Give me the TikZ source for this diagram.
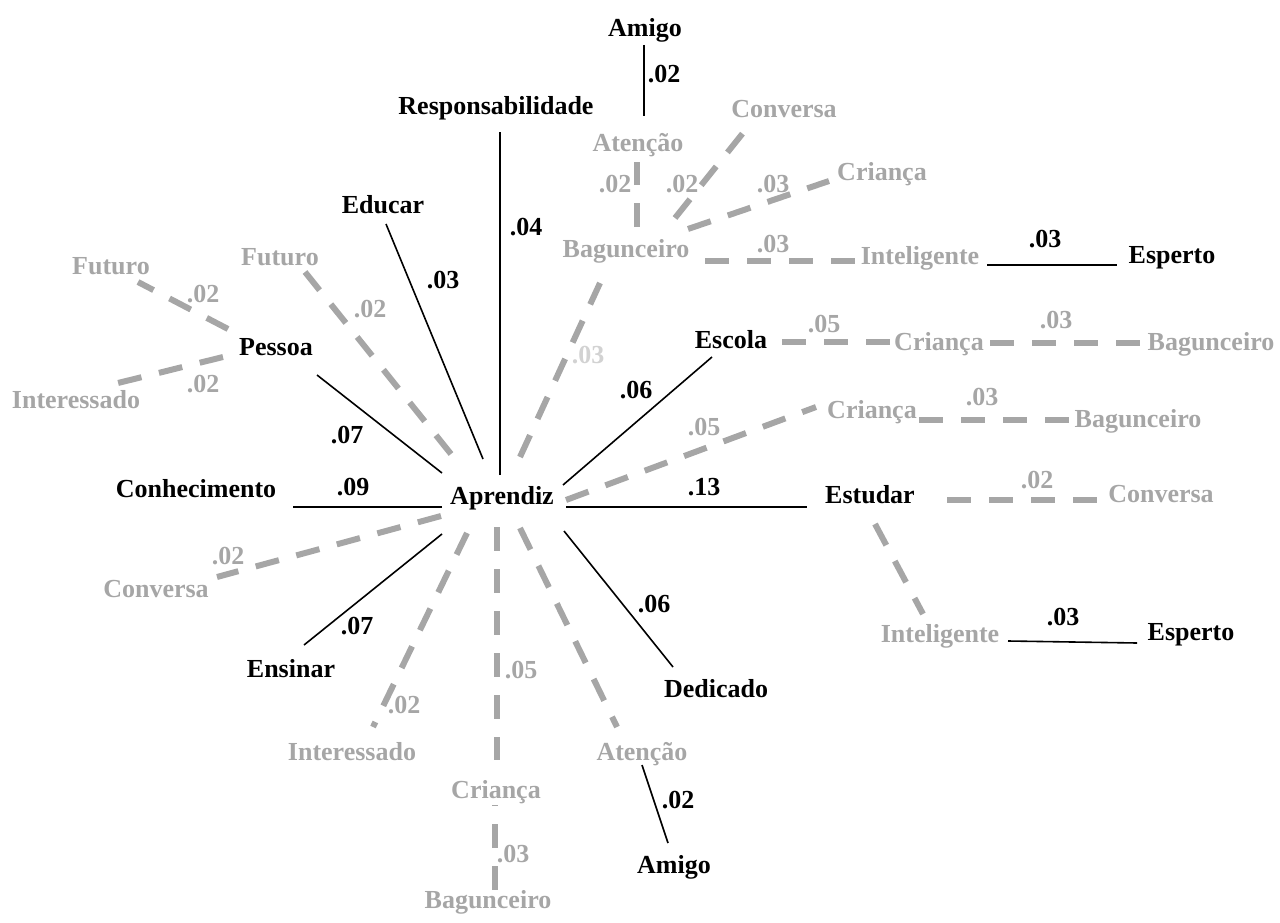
\documentclass[tikz,border=0pt]{standalone}
\usepackage{fontspec}
\setmainfont{Liberation Serif}
\definecolor{linkgray}{HTML}{A6A6A6}
\definecolor{palegray}{HTML}{D2D2D2}
\begin{document}
\begin{tikzpicture}[x=1pt,y=-1pt,
  every node/.style={font=\fontsize{26}{30}\selectfont\bfseries, inner sep=0pt, anchor=base},
  word/.style={text=black},
  wword/.style={text=linkgray},
  val/.style={text=black},
  wval/.style={text=linkgray},
  pval/.style={text=palegray},
  strong/.style={draw=black, line width=1.6pt},
  weak/.style={draw=linkgray, line width=6pt, dash pattern=on 24pt off 18pt}]
\useasboundingbox (0,0) rectangle (1280,923);

% ---- terms ----
\node[word]  (apr)    at (502,504) {Aprendiz};
\node[word]  (resp)   at (496,115) {Responsabilidade};
\node[word]  (amigoT) at (645,37)  {Amigo};
\node[wword] (atenT)  at (638,152) {Atenção};
\node[wword] (convT)  at (784,118) {Conversa};
\node[wword] (criT)   at (882,180) {Criança};
\node[wword] (bagT)   at (626,257) {Bagunceiro};
\node[wword] (intT)   at (920,264) {Inteligente};
\node[word]  (espT)   at (1172,263) {Esperto};
\node[word]  (educ)   at (383,213) {Educar};
\node[wword] (futA)   at (280,265) {Futuro};
\node[wword] (futB)   at (111,274) {Futuro};
\node[word]  (pes)    at (276,355) {Pessoa};
\node[wword] (intL)   at (76,408)  {Interessado};
\node[word]  (conh)   at (196,497) {Conhecimento};
\node[word]  (esc)    at (731,348) {Escola};
\node[wword] (criE)   at (939,350) {Criança};
\node[wword] (bagE)   at (1211,350) {Bagunceiro};
\node[wword] (criM)   at (872,418) {Criança};
\node[wword] (bagM)   at (1138,427) {Bagunceiro};
\node[word]  (est)    at (870,503) {Estudar};
\node[wword] (convE)  at (1161,502) {Conversa};
\node[wword] (intE)   at (940,642) {Inteligente};
\node[word]  (espE)   at (1191,640) {Esperto};
\node[wword] (convL)  at (156,597) {Conversa};
\node[word]  (ens)    at (291,677) {Ensinar};
\node[word]  (ded)    at (716,697) {Dedicado};
\node[wword] (intB)   at (352,760) {Interessado};
\node[wword] (atenB)  at (642,760) {Atenção};
\node[word]  (amigoB) at (674,873) {Amigo};
\node[wword] (criB)   at (496,798) {Criança};
\node[wword] (bagB)   at (488,908) {Bagunceiro};

% ---- weights ----
\node[val]  (w01) at (664,83)   {.02};
\node[wval] (w02) at (615,193)  {.02};
\node[wval] (w03) at (682,193)  {.02};
\node[wval] (w04) at (773,192)  {.03};
\node[wval] (w05) at (773,252)  {.03};
\node[val]  (w06) at (1045,247) {.03};
\node[val]  (w07) at (526,235)  {.04};
\node[val]  (w08) at (443,288)  {.03};
\node[wval] (w09) at (370,317)  {.02};
\node[wval] (w10) at (203,302)  {.02};
\node[wval] (w11) at (203,392)  {.02};
\node[val]  (w12) at (347,443)  {.07};
\node[val]  (w13) at (353,495)  {.09};
\node[val]  (w14) at (704,495)  {.13};
\node[val]  (w15) at (636,398)  {.06};
\node[wval] (w16) at (824,332)  {.05};
\node[wval] (w17) at (1056,328) {.03};
\node[wval] (w18) at (704,435)  {.05};
\node[wval] (w19) at (982,405)  {.03};
\node[wval] (w20) at (1037,488) {.02};
\node[val]  (w21) at (1063,625) {.03};
\node[val]  (w22) at (654,612)  {.06};
\node[val]  (w23) at (678,808)  {.02};
\node[wval] (w24) at (521,678)  {.05};
\node[wval] (w25) at (513,862)  {.03};
\node[wval] (w26) at (228,564)  {.02};
\node[val]  (w27) at (357,634)  {.07};
\node[wval] (w28) at (404,713)  {.02};
\node[pval] (w29) at (588,363)  {.03};

% ---- connector ends ----
\coordinate (amigoT-s) at (644,45);   \coordinate (atenT-n) at (644,116);
\coordinate (bagT-n)   at (637,227);  \coordinate (atenT-s) at (637,162);
\coordinate (bagT-ne)  at (675,218);  \coordinate (convT-s) at (743,133);
\coordinate (bagT-e1)  at (688,229);  \coordinate (criT-w)  at (829,181);
\coordinate (bagT-e2)  at (705,261);  \coordinate (intT-w)  at (855,261);
\coordinate (intT-e)   at (987,265);  \coordinate (espT-w)  at (1117,265);
\coordinate (apr-n)    at (500,475);  \coordinate (resp-s)  at (500,132);
\coordinate (apr-nw1)  at (483,459);  \coordinate (educ-s)  at (386,224);
\coordinate (apr-nw2)  at (451,454);  \coordinate (futA-s)  at (305,272);
\coordinate (pes-nw)   at (228,329);  \coordinate (futB-s)  at (138,282);
\coordinate (pes-w)    at (223,357);  \coordinate (intL-e)  at (118,383);
\coordinate (apr-nw3)  at (442,473);  \coordinate (pes-se)  at (317,375);
\coordinate (apr-w)    at (442,507);  \coordinate (conh-e)  at (293,507);
\coordinate (apr-e)    at (566,507);  \coordinate (est-w)   at (807,507);
\coordinate (apr-ne1)  at (563,485);  \coordinate (esc-sw)  at (712,357);
\coordinate (esc-e)    at (782,342);  \coordinate (criE-w)  at (890,342);
\coordinate (criE-e)   at (990,343);  \coordinate (bagE-w)  at (1147,343);
\coordinate (apr-ne2)  at (566,500);  \coordinate (criM-w)  at (816,407);
\coordinate (criM-e)   at (919,420);  \coordinate (bagM-w)  at (1072,420);
\coordinate (est-e)    at (947,500);  \coordinate (convE-w) at (1097,500);
\coordinate (est-s)    at (875,524);  \coordinate (intE-n)  at (923,614);
\coordinate (intE-e)   at (1008,641); \coordinate (espE-w)  at (1137,643);
\coordinate (apr-se1)  at (564,531);  \coordinate (ded-n)   at (673,667);
\coordinate (apr-se2)  at (520,528);  \coordinate (atenB-n) at (617,727);
\coordinate (atenB-s)  at (642,765);  \coordinate (amigoB-n) at (668,843);
\coordinate (apr-s)    at (497,527);  \coordinate (criB-n)  at (497,760);
\coordinate (bagB-n)   at (495,890);  \coordinate (criB-s)  at (495,805);
\coordinate (apr-sw1)  at (441,516);  \coordinate (convL-e) at (217,577);
\coordinate (apr-sw2)  at (442,534);  \coordinate (ens-ne)  at (304,645);
\coordinate (apr-sw3)  at (467,533);  \coordinate (intB-n)  at (373,727);
\coordinate (apr-ne3)  at (520,457);  \coordinate (bagT-s)  at (600,283);

% ---- connectors ----
\draw[strong] (amigoT-s) -- (atenT-n);
\draw[weak]   (bagT-n)   -- (atenT-s);
\draw[weak]   (bagT-ne)  -- (convT-s);
\draw[weak]   (bagT-e1)  -- (criT-w);
\draw[weak]   (bagT-e2)  -- (intT-w);
\draw[strong] (intT-e)   -- (espT-w);
\draw[strong] (apr-n)    -- (resp-s);
\draw[strong] (apr-nw1)  -- (educ-s);
\draw[weak]   (apr-nw2)  -- (futA-s);
\draw[weak]   (pes-nw)   -- (futB-s);
\draw[weak]   (pes-w)    -- (intL-e);
\draw[strong] (apr-nw3)  -- (pes-se);
\draw[strong] (apr-w)    -- (conh-e);
\draw[strong] (apr-e)    -- (est-w);
\draw[strong] (apr-ne1)  -- (esc-sw);
\draw[weak]   (esc-e)    -- (criE-w);
\draw[weak]   (criE-e)   -- (bagE-w);
\draw[weak]   (apr-ne2)  -- (criM-w);
\draw[weak]   (criM-e)   -- (bagM-w);
\draw[weak]   (est-e)    -- (convE-w);
\draw[weak]   (est-s)    -- (intE-n);
\draw[strong] (intE-e)   -- (espE-w);
\draw[strong] (apr-se1)  -- (ded-n);
\draw[weak]   (apr-se2)  -- (atenB-n);
\draw[strong] (atenB-s)  -- (amigoB-n);
\draw[weak]   (apr-s)    -- (criB-n);
\draw[weak]   (bagB-n)   -- (criB-s);
\draw[weak]   (apr-sw1)  -- (convL-e);
\draw[strong] (apr-sw2)  -- (ens-ne);
\draw[weak]   (apr-sw3)  -- (intB-n);
\draw[weak]   (apr-ne3)  -- (bagT-s);
\end{tikzpicture}
\end{document}
